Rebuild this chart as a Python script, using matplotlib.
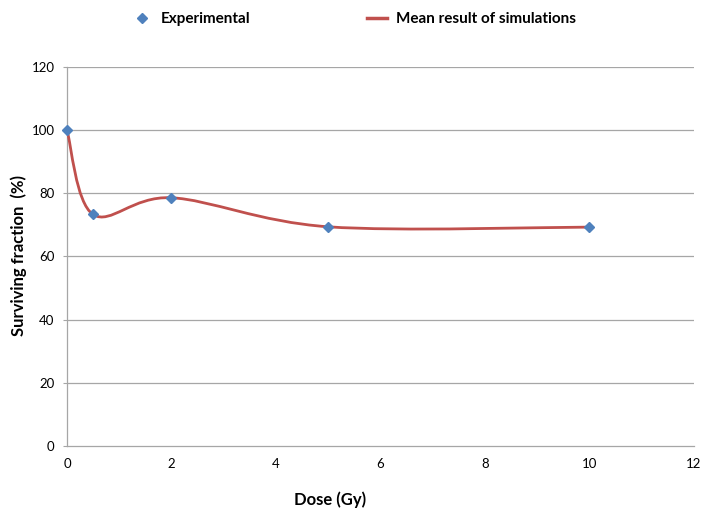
import matplotlib.pyplot as plt
from matplotlib.path import Path
from matplotlib.patches import PathPatch
from matplotlib.lines import Line2D

plt.rcParams['font.family'] = ['Lato', 'DejaVu Sans']

# Data
dose = [0, 0.5, 2, 5, 10]
experimental = [100, 73.3, 78.6, 69.4, 69.3]
simulation = [100, 73.3, 78.6, 69.4, 69.3]

x_ticks = [0, 2, 4, 6, 8, 10, 12]
y_ticks = [0, 20, 40, 60, 80, 100, 120]

blue = '#4F81BD'
red = '#C0504D'
grid_col = '#A6A6A6'


# Excel-like smoothed line: cubic Bezier pieces through the points
def smooth_path(xs, ys):
    pts = list(zip(xs, ys))
    n = len(pts)
    verts = [pts[0]]
    codes = [Path.MOVETO]
    for i in range(n - 1):
        p0 = pts[i - 1] if i > 0 else pts[i]
        p1 = pts[i]
        p2 = pts[i + 1]
        p3 = pts[i + 2] if i + 2 < n else pts[i + 1]
        c1 = (p1[0] + (p2[0] - p0[0]) / 6, p1[1] + (p2[1] - p0[1]) / 6)
        c2 = (p2[0] - (p3[0] - p1[0]) / 6, p2[1] - (p3[1] - p1[1]) / 6)
        verts += [c1, c2, p2]
        codes += [Path.CURVE4] * 3
    return Path(verts, codes)


fig = plt.figure(figsize=(7.06, 5.09), dpi=100)
ax = fig.add_axes([0.0949, 0.1238, 0.8881, 0.7446])

for y in y_ticks[1:]:
    ax.axhline(y, color=grid_col, lw=0.9, zorder=1)

ax.add_patch(PathPatch(smooth_path(dose, simulation), facecolor='none',
                       edgecolor=red, lw=2.0, zorder=3, clip_on=False))
ax.plot(dose, experimental, linestyle='none', marker='D', markersize=5.5,
        color=blue, zorder=4, clip_on=False)

ax.set_xlim(0, 12)
ax.set_ylim(0, 120)
ax.set_xticks(x_ticks)
ax.set_yticks(y_ticks)
ax.tick_params(axis='x', length=0, pad=9, labelsize=9.5)
ax.tick_params(axis='y', length=3, color=grid_col, pad=6, labelsize=9.5)

for s in ['top', 'right']:
    ax.spines[s].set_visible(False)
for s in ['left', 'bottom']:
    ax.spines[s].set_color(grid_col)
    ax.spines[s].set_linewidth(0.9)

fig.text(19 / 706, 1 - 256 / 509, 'Surviving fraction  (%)', fontsize=12,
         fontweight='bold', rotation=90, ha='center', va='center')
fig.text(330 / 706, 1 - 500 / 509, 'Dose (Gy)', fontsize=12, fontweight='bold',
         ha='center', va='center')

handles = [Line2D([], [], linestyle='none', marker='D', markersize=5.5, color=blue),
           Line2D([], [], color=red, lw=2.5)]
fig.legend(handles, ['Experimental', 'Mean result of simulations'],
           loc='center', bbox_to_anchor=(354 / 706, 1 - 19 / 509), ncol=2,
           frameon=False, prop={'weight': 'bold', 'size': 11},
           handlelength=1.3, handletextpad=0.6, columnspacing=7.6)

fig.savefig('out.png', dpi=100)
